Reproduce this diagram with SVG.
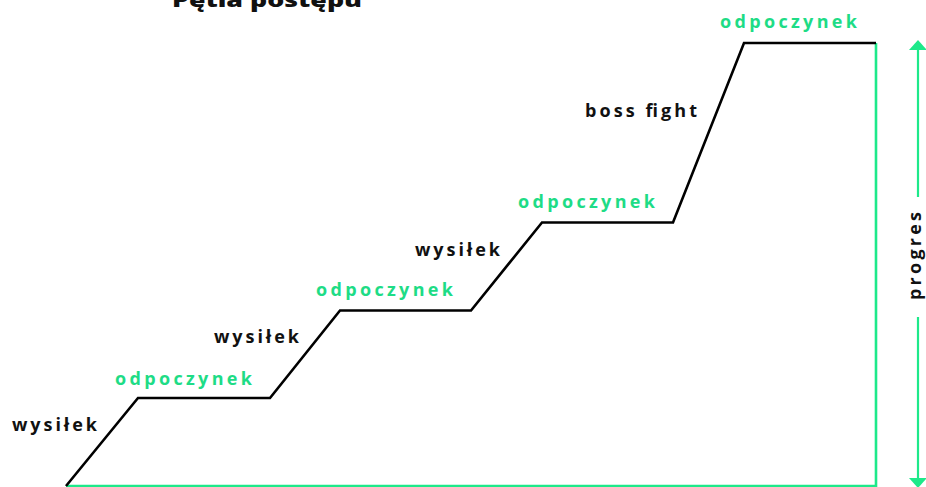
<svg xmlns="http://www.w3.org/2000/svg" width="926" height="487" viewBox="0 0 926 487">
<defs>
<style>
.lbl{font-family:"Open Sans","Liberation Sans",sans-serif;font-weight:700;font-size:18px;}
.blk{fill:#111111;}
.grn{fill:#1edc86;}
.step{fill:none;stroke:#000000;stroke-width:2.6;stroke-linejoin:miter;}
.gl{fill:none;stroke:#1de98a;stroke-width:2.6;}
.ax{stroke:#1de98a;stroke-width:2.2;fill:none;}
.ah{fill:#1de98a;}
</style>
</defs>
<rect width="926" height="487" fill="#ffffff"/>
<g id="title">
<text x="172" y="7" class="lbl blk" style="font-size:20px;font-weight:800" textLength="190" lengthAdjust="spacingAndGlyphs">Pętla postępu</text>
</g>
<g id="connectors">
<polyline class="gl" points="66,486 876,486 876,43"/>
<polyline class="step" points="66,486 138,398 270,398 340,310.5 471,310.5 542,222.5 673,222.5 744,43 876,43"/>
</g>
<g id="axis">
<line class="ax" x1="918" y1="48" x2="918" y2="197"/>
<line class="ax" x1="918" y1="317" x2="918" y2="480"/>
<polygon class="ah" points="918,40 909,50 927,50"/>
<polygon class="ah" points="918,488 909,478 927,478"/>
<text class="lbl blk" transform="translate(921,256) rotate(-90)" text-anchor="middle" textLength="88" lengthAdjust="spacing">progres</text>
</g>
<g id="n1"><text x="12" y="431" class="lbl blk" textLength="85" lengthAdjust="spacing">wysiłek</text></g>
<g id="n2"><text x="115" y="385" class="lbl grn" textLength="137" lengthAdjust="spacing">odpoczynek</text></g>
<g id="n3"><text x="214" y="343" class="lbl blk" textLength="85" lengthAdjust="spacing">wysiłek</text></g>
<g id="n4"><text x="316" y="296" class="lbl grn" textLength="137" lengthAdjust="spacing">odpoczynek</text></g>
<g id="n5"><text x="415" y="256" class="lbl blk" textLength="85" lengthAdjust="spacing">wysiłek</text></g>
<g id="n6"><text x="518" y="208" class="lbl grn" textLength="137" lengthAdjust="spacing">odpoczynek</text></g>
<g id="n7"><text x="585" y="117" class="lbl blk" textLength="112" lengthAdjust="spacing">boss fight</text></g>
<g id="n8"><text x="720" y="28" class="lbl grn" textLength="137" lengthAdjust="spacing">odpoczynek</text></g>
</svg>
